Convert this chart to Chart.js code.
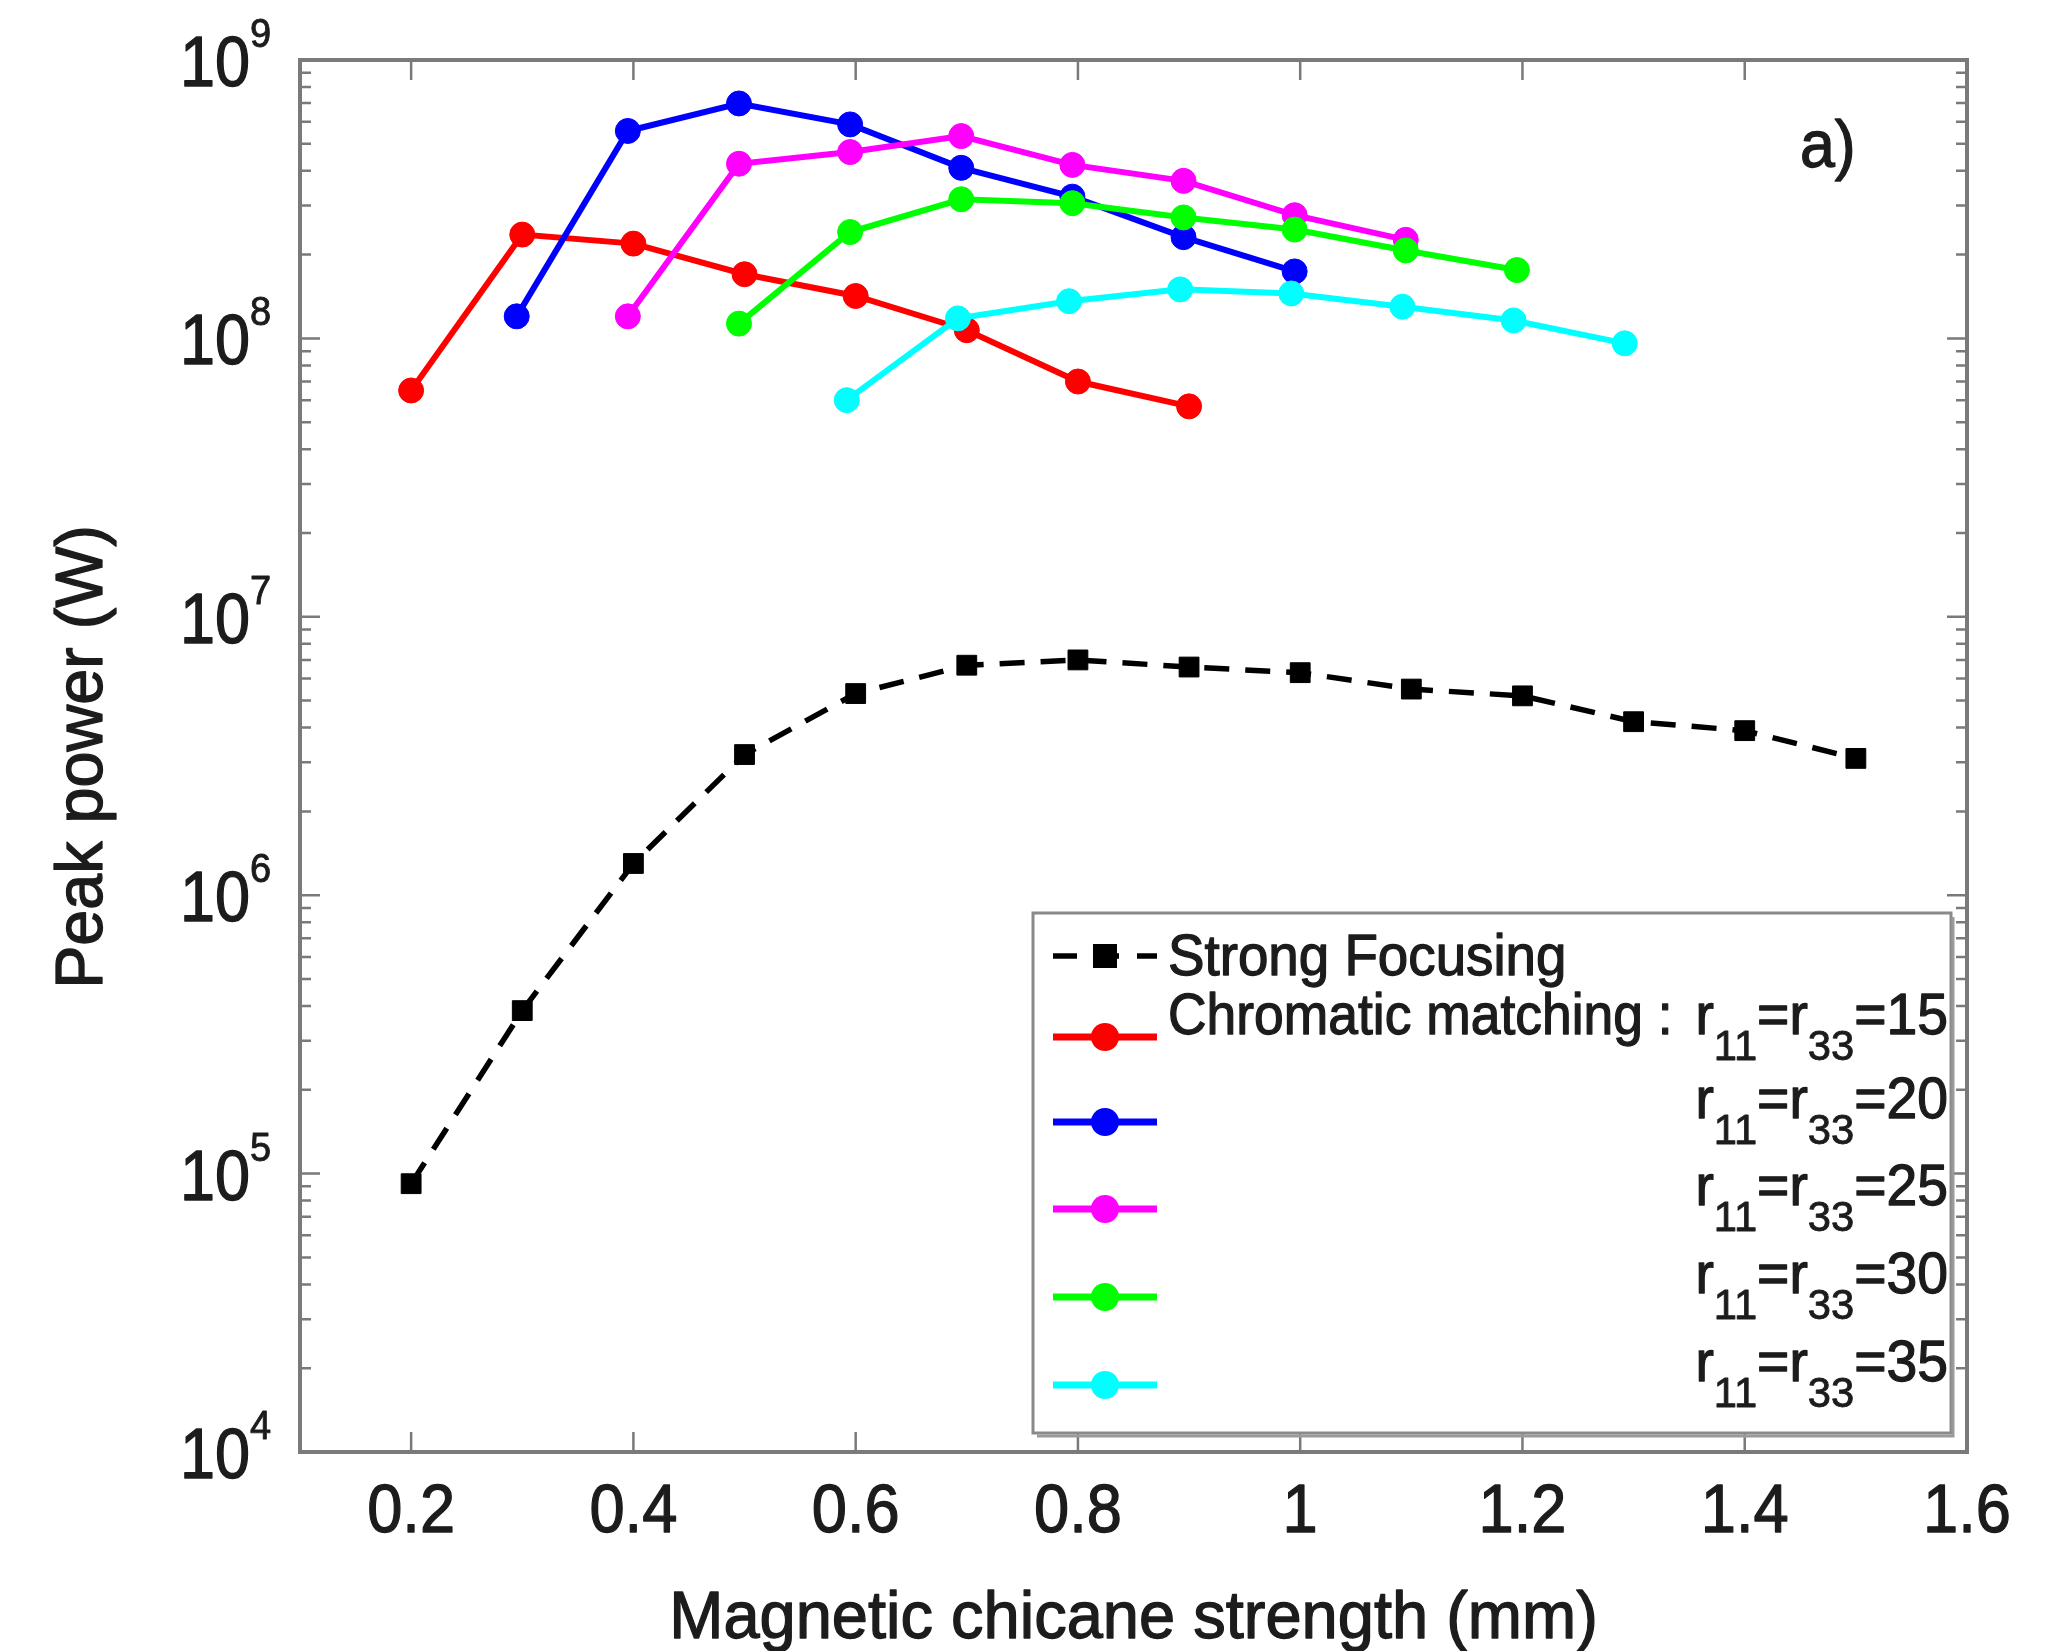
<!DOCTYPE html>
<html>
<head>
<meta charset="utf-8">
<script src="https://cdn.jsdelivr.net/npm/chart.js@4.4.1/dist/chart.umd.min.js"></script>
<style>
html,body{margin:0;padding:0;background:#fff;}
#wrap{width:2060px;height:1651px;position:relative;}
</style>
</head>
<body>
<div id="wrap"><canvas id="c" width="2060" height="1651"></canvas></div>
<script>
// ---------- data ----------
const xStrong = [0.2,0.3,0.4,0.5,0.6,0.7,0.8,0.9,1.0,1.1,1.2,1.3,1.4,1.5];
const yStrong = [9.2e4,3.85e5,1.3e6,3.2e6,5.3e6,6.7e6,7.0e6,6.6e6,6.3e6,5.5e6,5.2e6,4.2e6,3.9e6,3.1e6];

const xR15 = [0.2,0.3,0.4,0.5,0.6,0.7,0.8,0.9];
const yR15 = [6.5e7,2.36e8,2.19e8,1.70e8,1.42e8,1.07e8,7.0e7,5.7e7];

const xR20 = [0.295,0.395,0.495,0.595,0.695,0.795,0.895,0.995];
const yR20 = [1.2e8,5.56e8,6.98e8,5.87e8,4.1e8,3.23e8,2.31e8,1.74e8];

const xR25 = [0.395,0.495,0.595,0.695,0.795,0.895,0.995,1.095];
const yR25 = [1.2e8,4.24e8,4.67e8,5.33e8,4.2e8,3.68e8,2.77e8,2.26e8];

const xR30 = [0.495,0.595,0.695,0.795,0.895,0.995,1.095,1.195];
const yR30 = [1.13e8,2.41e8,3.16e8,3.06e8,2.72e8,2.46e8,2.07e8,1.76e8];

const xR35 = [0.592,0.692,0.792,0.892,0.992,1.092,1.192,1.292];
const yR35 = [6.0e7,1.18e8,1.36e8,1.50e8,1.45e8,1.30e8,1.16e8,9.6e7];

const rValues = [15,20,25,30,35];
const xTickValues = [0.2,0.4,0.6,0.8,1.0,1.2,1.4,1.6];
const xTickLabels = ['0.2','0.4','0.6','0.8','1','1.2','1.4','1.6'];
const yTickExponents = [4,5,6,7,8,9];
const xTitle = 'Magnetic chicane strength (mm)';
const yTitle = 'Peak power (W)';
const strongLabel = 'Strong Focusing';
const chromLabel = 'Chromatic matching :';
const panelLabel = 'a)';

// ---------- helpers ----------
const FONT = '"Liberation Sans", Arial, Helvetica, sans-serif';
const TXT = '#1c1c1c';
const AXC = '#7a7a7a';
function pts(xs, ys){ return xs.map((x,i)=>({x:x, y:ys[i]})); }
function txt(ctx, s, x, y, size, align, sx){
  ctx.save();
  ctx.font = size + 'px ' + FONT;
  ctx.fillStyle = TXT;
  ctx.strokeStyle = TXT;
  ctx.lineWidth = size > 45 ? 1.3 : 0.9;
  ctx.lineJoin = 'round';
  ctx.textBaseline = 'alphabetic';
  ctx.translate(x, y);
  ctx.scale(sx, 1);
  ctx.textAlign = align;
  ctx.fillText(s, 0, 0);
  ctx.strokeText(s, 0, 0);
  ctx.restore();
}
function wid(ctx, s, size, sx){
  ctx.save(); ctx.font = size + 'px ' + FONT;
  const w = ctx.measureText(s).width * sx; ctx.restore(); return w;
}
// rich text: segments [text, size, dy]
function rich(ctx, segs, x, y, align, sx){
  let total = 0;
  segs.forEach(s => total += wid(ctx, s[0], s[1], sx));
  let cx = align === 'right' ? x - total : x;
  segs.forEach(s => { txt(ctx, s[0], cx, y + s[2], s[1], 'left', sx); cx += wid(ctx, s[0], s[1], sx); });
}

function lineDS(label, xs, ys, color, order){
  return {label, data: pts(xs, ys), borderColor: color, backgroundColor: color,
    borderWidth: 6, pointStyle: 'circle', pointRadius: 12.5, pointBorderWidth: 1,
    pointBorderColor: color, pointBackgroundColor: color, tension: 0, order, clip: false};
}

const datasets = [
  {label: strongLabel, data: pts(xStrong, yStrong), borderColor: '#000', backgroundColor: '#000',
   borderWidth: 5.5, borderDash: [25, 16], pointStyle: 'rect', pointRadius: 14, pointBorderWidth: 1,
   pointBorderColor: '#000', pointBackgroundColor: '#000', tension: 0, order: 6, clip: false},
  lineDS('r=15', xR15, yR15, '#ff0000', 5),
  lineDS('r=20', xR20, yR20, '#0000ff', 4),
  lineDS('r=25', xR25, yR25, '#ff00ff', 3),
  lineDS('r=30', xR30, yR30, '#00ff00', 2),
  lineDS('r=35', xR35, yR35, '#00ffff', 1)
];

const decor = {
  id: 'decor',
  afterDatasetsDraw(chart){
    const ctx = chart.ctx, a = chart.chartArea;
    const xs = chart.scales.x, ys = chart.scales.y;
    ctx.save();
    ctx.strokeStyle = AXC;
    ctx.lineWidth = 2.5;
    // x ticks (bottom and top)
    ctx.beginPath();
    xTickValues.forEach(v => {
      const px = xs.getPixelForValue(v);
      ctx.moveTo(px, a.bottom); ctx.lineTo(px, a.bottom - 20);
      ctx.moveTo(px, a.top); ctx.lineTo(px, a.top + 20);
    });
    // y ticks major + minor, left and right
    yTickExponents.forEach((e, i) => {
      const py = ys.getPixelForValue(Math.pow(10, e));
      ctx.moveTo(a.left, py); ctx.lineTo(a.left + 20, py);
      ctx.moveTo(a.right, py); ctx.lineTo(a.right - 20, py);
      if (i < yTickExponents.length - 1) {
        for (let m = 2; m <= 9; m++) {
          const pm = ys.getPixelForValue(m * Math.pow(10, e));
          ctx.moveTo(a.left, pm); ctx.lineTo(a.left + 11, pm);
          ctx.moveTo(a.right, pm); ctx.lineTo(a.right - 11, pm);
        }
      }
    });
    ctx.stroke();
    // axes box
    ctx.lineWidth = 4;
    ctx.strokeRect(a.left, a.top, a.right - a.left, a.bottom - a.top);
    ctx.restore();

    // tick labels
    xTickValues.forEach((v, i) => {
      txt(ctx, xTickLabels[i], xs.getPixelForValue(v), 1532, 68, 'center', 0.93);
    });
    yTickExponents.forEach(e => {
      const py = ys.getPixelForValue(Math.pow(10, e));
      txt(ctx, '10', 250, py + 26, 70, 'right', 0.9);
      txt(ctx, String(e), 250, py - 13, 40, 'left', 0.95);
    });
    // titles
    txt(ctx, xTitle, (a.left + a.right) / 2, 1638, 66, 'center', 0.985);
    ctx.save();
    ctx.translate(102, 757);
    ctx.rotate(-Math.PI / 2);
    txt(ctx, yTitle, 0, 0, 66, 'center', 0.98);
    ctx.restore();
    // panel label
    txt(ctx, panelLabel, 1800, 167, 66, 'left', 0.95);

    // legend
    const L = 1033, T = 913, R = 1951, B = 1433;
    ctx.save();
    ctx.fillStyle = '#fff';
    ctx.fillRect(L, T, R - L, B - T);
    ctx.strokeStyle = '#8a8a8a';
    ctx.lineWidth = 3;
    ctx.strokeRect(L, T, R - L, B - T);
    ctx.strokeStyle = '#9a9a9a';
    ctx.lineWidth = 3;
    ctx.beginPath(); ctx.moveTo(L + 4, B + 3); ctx.lineTo(R + 2, B + 3); ctx.lineTo(R + 2, T + 4); ctx.stroke();
    // sample: strong focusing
    const x0 = 1053, x1 = 1157, xm = (x0 + x1) / 2;
    ctx.strokeStyle = '#000';
    ctx.lineWidth = 5.5;
    ctx.setLineDash([24, 18]);
    ctx.beginPath(); ctx.moveTo(x0, 956); ctx.lineTo(x1, 956); ctx.stroke();
    ctx.setLineDash([]);
    ctx.fillStyle = '#000';
    ctx.fillRect(xm - 12, 956 - 12, 24, 24);
    // colored samples
    const rowY = [1037, 1122, 1209, 1297, 1385];
    for (let i = 0; i < 5; i++) {
      const c = datasets[i + 1].borderColor;
      ctx.strokeStyle = c; ctx.fillStyle = c; ctx.lineWidth = 7;
      ctx.beginPath(); ctx.moveTo(x0, rowY[i]); ctx.lineTo(x1, rowY[i]); ctx.stroke();
      ctx.beginPath(); ctx.arc(xm, rowY[i], 14, 0, Math.PI * 2); ctx.fill();
    }
    ctx.restore();
    txt(ctx, strongLabel, 1168, 975, 57, 'left', 0.96);
    txt(ctx, chromLabel, 1168, 1034, 57, 'left', 0.937);
    const textY = [1034, 1118, 1205, 1293, 1381];
    rValues.forEach((r, i) => {
      rich(ctx, [['r', 57, 0], ['11', 43, 26], ['=r', 57, 0], ['33', 43, 26], ['=' + r, 57, 0]], 1948, textY[i], 'right', 0.97);
    });
  }
};

new Chart(document.getElementById('c'), {
  type: 'line',
  data: { datasets },
  options: {
    responsive: false,
    animation: false,
    devicePixelRatio: 1,
    layout: { padding: { left: 300, top: 60, right: 2060 - 1967, bottom: 1651 - 1452 } },
    plugins: { legend: { display: false }, tooltip: { enabled: false }, title: { display: false } },
    scales: {
      x: { type: 'linear', min: 0.1, max: 1.6, display: false },
      y: { type: 'logarithmic', min: 1e4, max: 1e9, display: false }
    }
  },
  plugins: [decor]
});
</script>
</body>
</html>
